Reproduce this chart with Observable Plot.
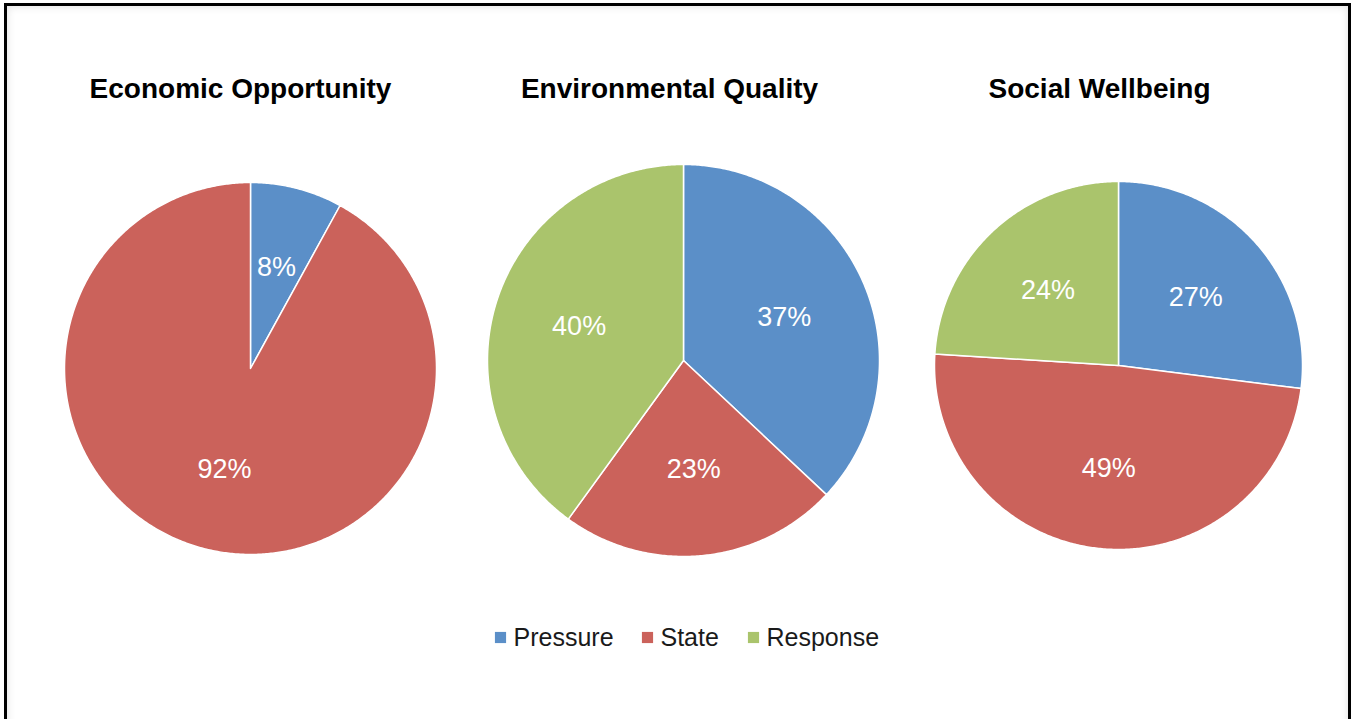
<!DOCTYPE html>
<html>
<head>
<meta charset="utf-8">
<script src="https://cdn.jsdelivr.net/npm/d3@7"></script>
<script src="https://cdn.jsdelivr.net/npm/@observablehq/plot@0.6"></script>
<style>
  html, body { margin: 0; padding: 0; background: #fff; overflow: hidden; }
  #wrap { position: relative; width: 1351px; height: 719px; }
  #frame { position: absolute; left: 4px; top: 3px; width: 1347px; height: 760px; box-sizing: border-box;
           border: 3px solid #000; border-bottom: none; box-shadow: inset 0 0 9px rgba(0,0,0,0.13); pointer-events: none; }
  #chart { position: absolute; left: 0; top: 0; }
</style>
</head>
<body>
<div id="wrap"><div id="chart"></div><div id="frame"></div></div>
<script>
// ---- data ----
const categories = ["Pressure", "State", "Response"];
const pieTitles = ["Economic Opportunity", "Environmental Quality", "Social Wellbeing"];
const economicValues = [8, 92, 0];
const environmentalValues = [37, 23, 40];
const socialValues = [27, 49, 24];
const seriesValues = [economicValues, environmentalValues, socialValues];

// ---- styles / layout ----
const colors = ["#5b8fc8", "#cb625b", "#aac46c"];
const pieLayout = [
  {cx: 250, cy: 368, r: 186, titleX: 240},
  {cx: 683, cy: 360, r: 196, titleX: 669},
  {cx: 1118, cy: 365, r: 184, titleX: 1099}
];
const titleY = 89;
const labelRadius = 0.56;
const legendY = 637;
const legendX = [494, 641, 747];
const W = 1351, H = 719;

// ---- build geometry from data ----
const pieGen = d3.pie().sort(null).value(d => d.value);
const slicePts = [];
const labels = [];
const titles = [];
seriesValues.forEach((vals, pi) => {
  const L = pieLayout[pi];
  titles.push({x: L.titleX, y: titleY, text: pieTitles[pi]});
  const rows = categories.map((c, i) => ({category: c, value: vals[i]}));
  pieGen(rows).forEach(arc => {
    if (arc.data.value <= 0) return;
    const id = pi + "-" + arc.data.category;
    const pts = [{x: L.cx, y: L.cy}];
    const steps = Math.max(2, Math.ceil((arc.endAngle - arc.startAngle) / (Math.PI / 360)));
    for (let k = 0; k <= steps; k++) {
      const a = arc.startAngle + (arc.endAngle - arc.startAngle) * k / steps;
      pts.push({x: L.cx + L.r * Math.sin(a), y: L.cy - L.r * Math.cos(a)});
    }
    pts.push({x: L.cx, y: L.cy});
    pts.forEach(p => slicePts.push({...p, id, category: arc.data.category}));
    const m = (arc.startAngle + arc.endAngle) / 2;
    labels.push({
      x: L.cx + L.r * labelRadius * Math.sin(m),
      y: L.cy - L.r * labelRadius * Math.cos(m),
      text: arc.data.value + "%"
    });
  });
});
const legendRows = categories.map((c, i) => ({category: c, x: legendX[i], y: legendY}));

const chart = Plot.plot({
  width: W, height: H,
  margin: 0,
  x: {domain: [0, W], range: [0, W], axis: null},
  y: {domain: [0, H], range: [0, H], axis: null},
  color: {domain: categories, range: colors},
  style: {fontFamily: "'Liberation Sans', Arial, sans-serif", background: "transparent"},
  marks: [
    Plot.line(slicePts, {x: "x", y: "y", z: "id", fill: "category", stroke: "white", strokeWidth: 1.5, strokeLinejoin: "round"}),
    Plot.text(labels, {x: "x", y: "y", text: "text", fill: "white", fontSize: 27}),
    Plot.text(titles, {x: "x", y: "y", text: "text", fill: "#000", fontSize: 28, fontWeight: "bold"}),
    Plot.dot(legendRows, {x: d => d.x + 6, y: "y", symbol: "square", fill: "category", r: 6.3}),
    Plot.text(legendRows, {x: d => d.x + 19, y: "y", text: "category", textAnchor: "start", fill: "#1a1a1a", fontSize: 25})
  ]
});
document.getElementById("chart").appendChild(chart);
</script>
</body>
</html>
